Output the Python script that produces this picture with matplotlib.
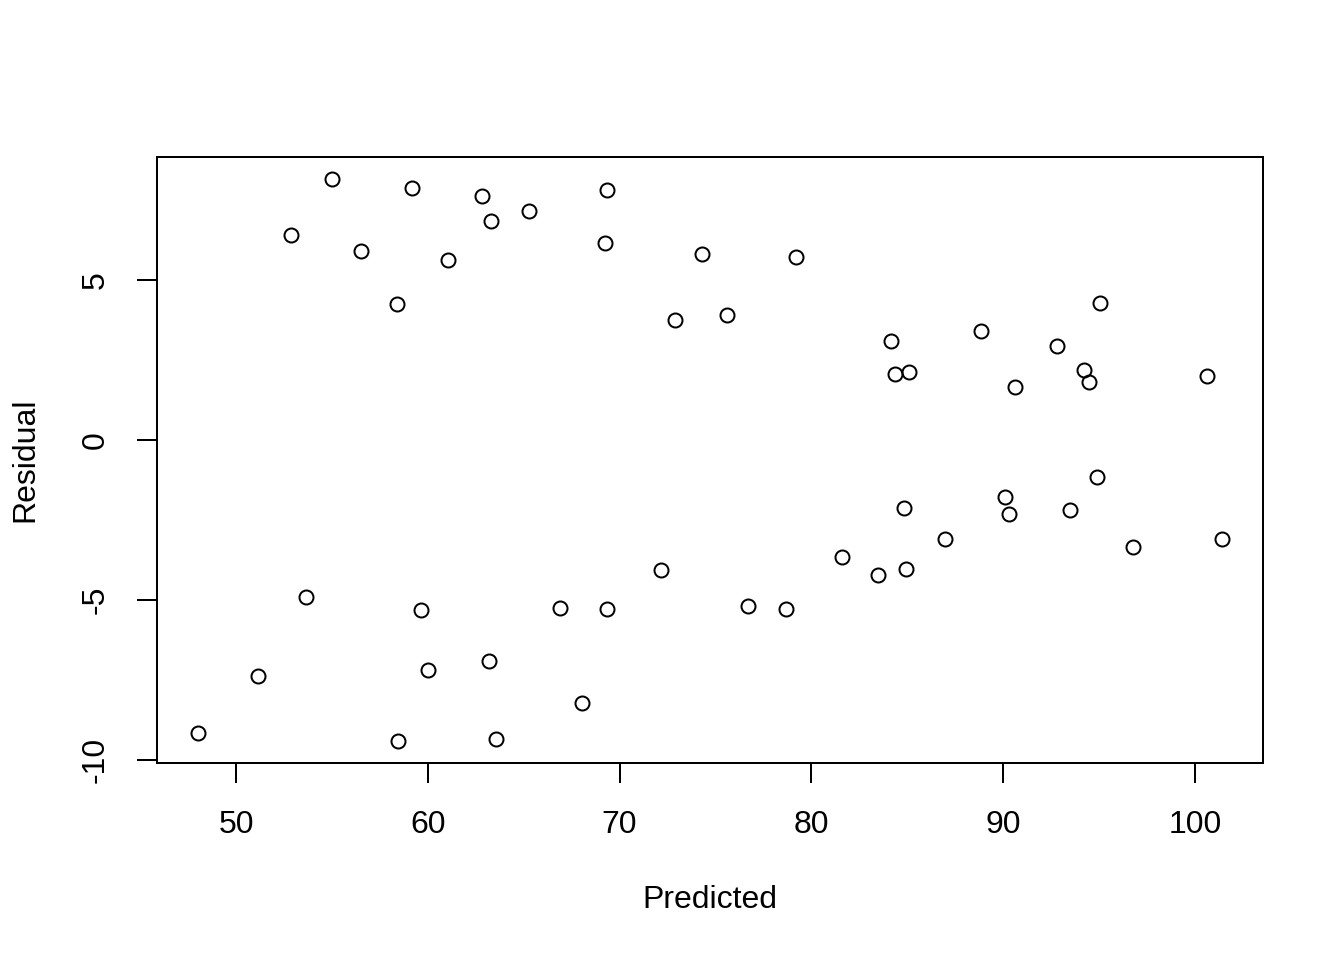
import matplotlib
matplotlib.use('Agg')
import matplotlib.pyplot as plt

plt.rcParams['font.family'] = ['Liberation Sans', 'DejaVu Sans']
plt.rcParams['font.size'] = 24

# Predicted values and residuals
predicted = [48.02, 51.15, 52.87, 53.65, 55.00, 56.52, 58.39, 58.45, 59.18, 59.65,
             60.01, 61.05, 62.83, 63.19, 63.30, 63.56, 65.28, 66.89, 68.04, 69.24,
             69.34, 69.34, 72.16, 72.89, 74.30, 75.60, 76.69, 78.68, 79.20, 81.60,
             83.47, 84.15, 84.36, 84.83, 84.93, 85.09, 86.97, 88.84, 90.09, 90.30,
             90.62, 92.81, 93.49, 94.21, 94.47, 94.89, 95.05, 96.77, 100.63, 101.41]
residual = [-9.16, -7.38, 6.41, -4.91, 8.16, 5.91, 4.25, -9.41, 7.88, -5.31,
            -7.19, 5.63, 7.63, -6.91, 6.84, -9.34, 7.16, -5.25, -8.22, 6.16,
            7.81, -5.28, -4.06, 3.75, 5.81, 3.91, -5.19, -5.28, 5.72, -3.66,
            -4.22, 3.09, 2.06, -2.13, -4.03, 2.13, -3.09, 3.41, -1.78, -2.31,
            1.66, 2.94, -2.19, 2.19, 1.81, -1.16, 4.28, -3.34, 2.00, -3.09]
x_ticks = [50, 60, 70, 80, 90, 100]
y_ticks = [-10, -5, 0, 5]

fig = plt.figure(figsize=(14, 10), dpi=96)
ax = fig.add_axes([157/1344, 1 - 763/960, 1106/1344, 606/960])

ax.plot(predicted, residual, linestyle='none', marker='o', markersize=10.5,
        markerfacecolor='none', markeredgecolor='black', markeredgewidth=1.5)

ax.set_xlim(45.88, 103.55)
ax.set_ylim(-10.09, 8.84)
ax.set_xticks(x_ticks)
ax.set_yticks(y_ticks)
ax.set_yticklabels([str(t) for t in y_ticks], rotation=90, va='center')

for s in ax.spines.values():
    s.set_linewidth(1.5)
ax.tick_params(length=15, width=1.5, pad=20)

ax.set_xlabel('Predicted')
ax.set_ylabel('Residual')
ax.xaxis.set_label_coords(0.5, -0.226)
ax.yaxis.set_label_coords(-0.1193, 0.5)
ax.xaxis.label.set_va('center')
ax.yaxis.label.set_va('center')

fig.savefig('out.png', dpi=96)
